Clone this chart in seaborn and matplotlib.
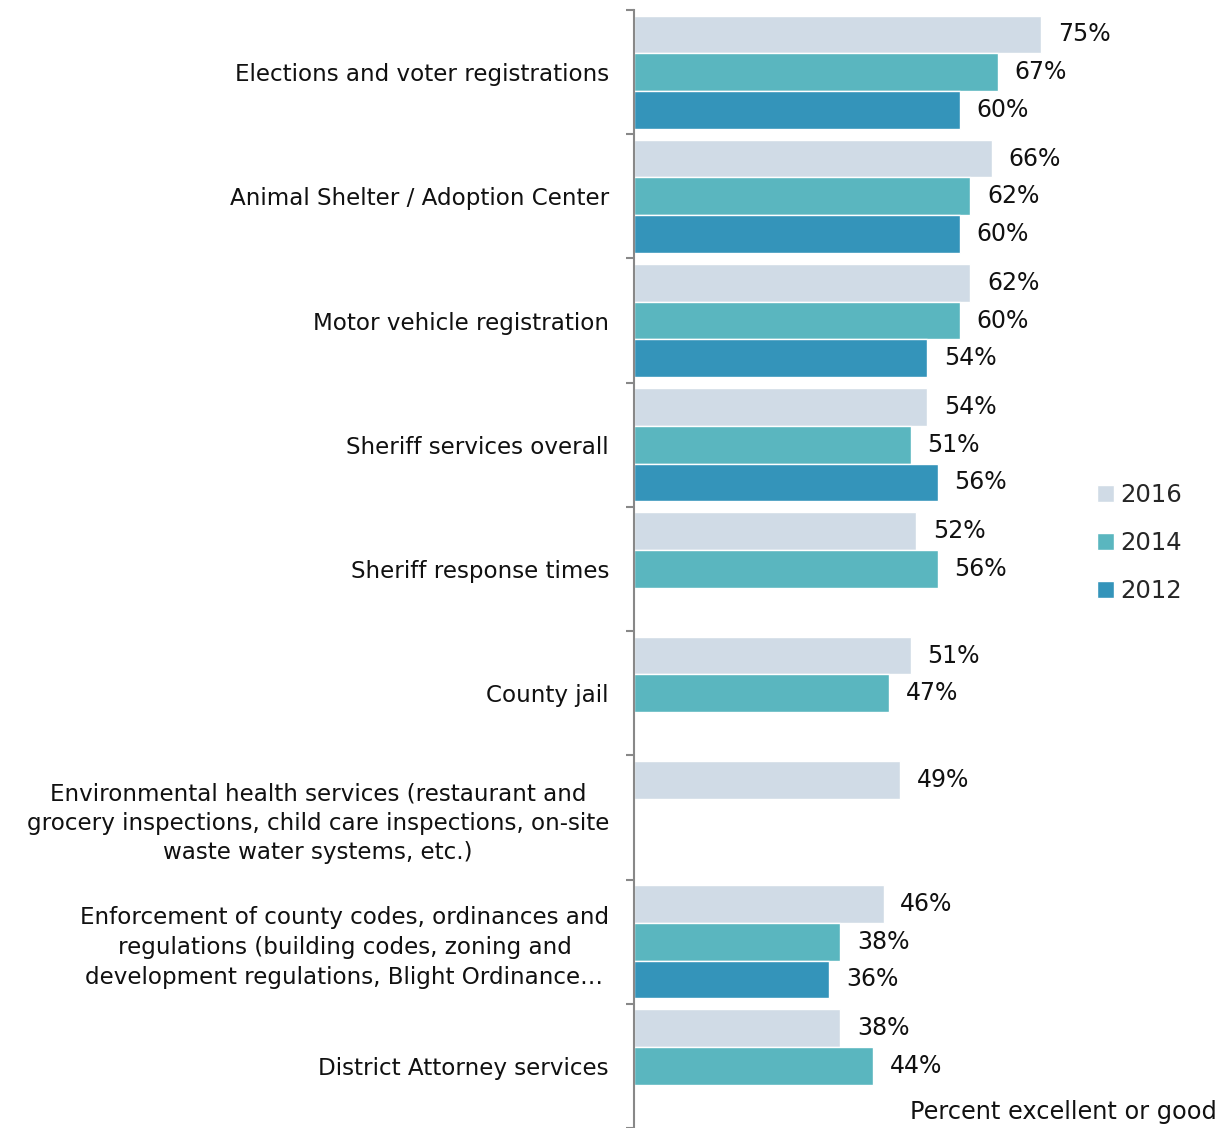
import numpy as np
import pandas as pd
import matplotlib
matplotlib.use("Agg")
import matplotlib.pyplot as plt
import seaborn as sns

categories = [
    "Elections and voter registrations",
    "Animal Shelter / Adoption Center",
    "Motor vehicle registration",
    "Sheriff services overall",
    "Sheriff response times",
    "County jail",
    "Environmental health services (restaurant and\ngrocery inspections, child care inspections, on-site\nwaste water systems, etc.)",
    "Enforcement of county codes, ordinances and\nregulations (building codes, zoning and\ndevelopment regulations, Blight Ordinance\u2026",
    "District Attorney services",
]
years = ["2016", "2014", "2012"]
values_2016 = [75, 66, 62, 54, 52, 51, 49, 46, 38]
values_2014 = [67, 62, 60, 51, 56, 47, np.nan, 38, 44]
values_2012 = [60, 60, 54, 56, np.nan, np.nan, np.nan, 36, np.nan]
colors = ["#D0DBE6", "#5AB6BF", "#3494BA"]

rows = []
for yr, vals in zip(years, [values_2016, values_2014, values_2012]):
    for c, v in zip(categories, vals):
        rows.append({"category": c, "year": yr, "value": v})
df = pd.DataFrame(rows)

sns.set_theme(style="white")
plt.rcParams["font.family"] = ["DejaVu Sans"]

W, H = 1232, 1128
fig = plt.figure(figsize=(W / 100, H / 100), dpi=100)
left_px, right_px, top_px = 634, 1231, 10
band = 125.0
ax_h_px = H - top_px
ax = fig.add_axes([left_px / W, 0, (right_px - left_px) / W, ax_h_px / H])

sns.barplot(data=df, y="category", x="value", hue="year", hue_order=years,
            order=categories, palette=colors, saturation=1, orient="h", width=0.91, gap=0,
            edgecolor="white", linewidth=1, ax=ax, legend=True)

ax.set_xlim(0, 110)
ax.set_ylim(-0.5 + ax_h_px / band, -0.5)

for cont in ax.containers:
    ax.bar_label(cont, labels=[f"{w:.0f}%" if w == w and w > 0 else "" for w in [b.get_width() for b in cont]],
                 padding=12, fontsize=17, color="#111111")

for s in ["top", "right", "bottom"]:
    ax.spines[s].set_visible(False)
ax.spines["left"].set_color("#888888")
ax.spines["left"].set_linewidth(1.5)
ax.set_xticks([])
ax.set_xlabel("")
ax.set_ylabel("")
ax.set_yticks(range(len(categories)))
ax.set_yticklabels(categories, fontsize=16.6, color="#111111", multialignment="center", linespacing=1.37)
ax.tick_params(axis="y", which="major", length=0, pad=18)
ax.set_yticks(np.arange(-0.5, len(categories), 1.0), minor=True)
ax.tick_params(axis="y", which="minor", length=6, width=1.5, color="#888888", direction="out", left=True)

leg = ax.legend(loc="center left", bbox_to_anchor=((1087 - left_px) / (right_px - left_px), 1 - (543 - top_px) / ax_h_px),
                frameon=False, fontsize=17.5, handlelength=0.7, handleheight=0.7,
                handletextpad=0.25, labelspacing=1.0, borderaxespad=0)

fig.text(1217 / W, 1 - 1112 / H, "Percent excellent or good", ha="right", va="center",
         fontsize=17.3, color="#111111")

fig.savefig("out.png", dpi=100)
